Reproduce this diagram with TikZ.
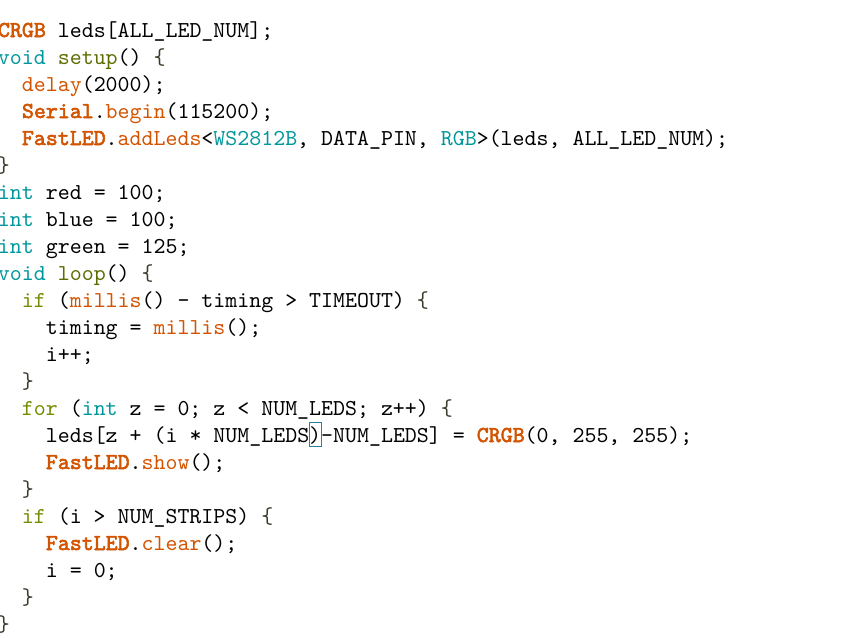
\documentclass[tikz,border=0pt]{standalone}
\usepackage{fontspec}
\setmonofont{lmmono10-regular.otf}[AutoFakeBold=2.5]
\definecolor{cty}{HTML}{00979C}
\definecolor{cfn}{HTML}{5E6D03}
\definecolor{cst}{HTML}{728E00}
\definecolor{cor}{HTML}{D35400}
\definecolor{ctx}{HTML}{000000}
\definecolor{cbr}{HTML}{3B3B2A}
\definecolor{cbox}{HTML}{2A7F9A}
\newcommand\cTy[1]{\textcolor{cty}{#1}}
\newcommand\cFn[1]{\textcolor{cfn}{#1}}
\newcommand\cSt[1]{\textcolor{cst}{#1}}
\newcommand\cOr[1]{\textcolor{cor}{#1}}
\newcommand\cBo[1]{\textcolor{cor}{\bfseries #1}}
\newcommand\cLb{\textcolor{cbr}{\{}}
\newcommand\cRb{\textcolor{cbr}{\}}}
\begin{document}
\begin{tikzpicture}[x=1pt,y=1pt,
  codeline/.style={anchor=base west,inner sep=0pt,outer sep=0pt,text=ctx,
    font=\ttfamily\fontsize{22.8}{27}\selectfont\frenchspacing}]
\useasboundingbox[fill=white] (0,0) rectangle (859,-637);
\def\cw{11.97}
\def\xo{-2}
\node[codeline] (l1) at (\xo+0*\cw,-37) {\cBo{CRGB} leds[ALL\_LED\_NUM];};
\node[codeline] (l2) at (\xo+0*\cw,-64) {\cTy{void} \cFn{setup}() \cLb};
\node[codeline] (l3) at (\xo+2*\cw,-91) {\cOr{delay}(2000);};
\node[codeline] (l4) at (\xo+2*\cw,-118) {\cBo{Serial}.\cOr{begin}(115200);};
\node[codeline] (l5) at (\xo+2*\cw,-145) {\cBo{FastLED}.\cOr{addLeds}<\cTy{WS2812B}, DATA\_PIN, \cTy{RGB}>(leds, ALL\_LED\_NUM);};
\node[codeline] (l6) at (\xo+0*\cw,-172) {\cRb};
\node[codeline] (l7) at (\xo+0*\cw,-199) {\cTy{int} red = 100;};
\node[codeline] (l8) at (\xo+0*\cw,-226) {\cTy{int} blue = 100;};
\node[codeline] (l9) at (\xo+0*\cw,-253) {\cTy{int} green = 125;};
\node[codeline] (l10) at (\xo+0*\cw,-280) {\cTy{void} \cFn{loop}() \cLb};
\node[codeline] (l11) at (\xo+2*\cw,-307) {\cSt{if} (\cOr{millis}() - timing > TIMEOUT) \cLb};
\node[codeline] (l12) at (\xo+4*\cw,-334) {timing = \cOr{millis}();};
\node[codeline] (l13) at (\xo+4*\cw,-361) {i++;};
\node[codeline] (l14) at (\xo+2*\cw,-388) {\cRb};
\node[codeline] (l15) at (\xo+2*\cw,-415) {\cSt{for} (\cTy{int} z = 0; z < NUM\_LEDS; z++) \cLb};
\node[codeline] (l16) at (\xo+4*\cw,-442) {leds[z + (i * NUM\_LEDS)-NUM\_LEDS] = \cBo{CRGB}(0, 255, 255);};
\node[codeline] (l17) at (\xo+4*\cw,-469) {\cBo{FastLED}.\cOr{show}();};
\node[codeline] (l18) at (\xo+2*\cw,-496) {\cRb};
\node[codeline] (l19) at (\xo+2*\cw,-523) {\cSt{if} (i > NUM\_STRIPS) \cLb};
\node[codeline] (l20) at (\xo+4*\cw,-550) {\cBo{FastLED}.\cOr{clear}();};
\node[codeline] (l21) at (\xo+4*\cw,-577) {i = 0;};
\node[codeline] (l22) at (\xo+2*\cw,-604) {\cRb};
\node[codeline] (l23) at (\xo+0*\cw,-631) {\cRb};
\draw[cbox,line width=1pt] (\xo+26*\cw,-422) rectangle (\xo+27*\cw,-446);
\end{tikzpicture}
\end{document}
